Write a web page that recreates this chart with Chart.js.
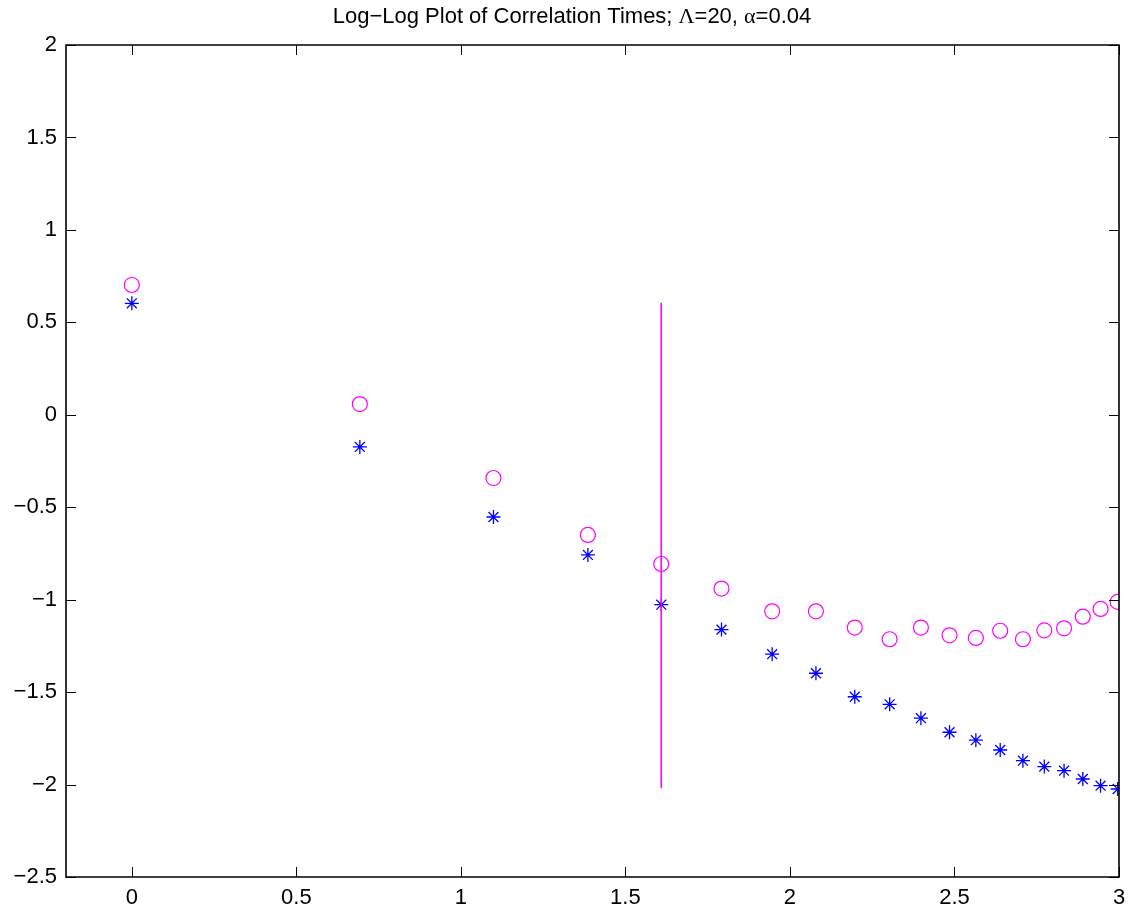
<!DOCTYPE html>
<html>
<head>
<meta charset="utf-8">
<script src="https://cdn.jsdelivr.net/npm/chart.js@4"></script>
<style>
  html, body { margin: 0; padding: 0; background: #fff; }
  canvas { display: block; }
</style>
</head>
<body>
<canvas id="c" width="1128" height="910"></canvas>
<script>
// log(L) for L = 1..20
const logL = [0, 0.693, 1.099, 1.386, 1.609, 1.792, 1.946, 2.079, 2.197, 2.303,
              2.398, 2.485, 2.565, 2.639, 2.708, 2.773, 2.833, 2.890, 2.944, 2.996];
// log correlation time, first estimator (circles)
const tauCircle = [0.702, 0.058, -0.342, -0.650, -0.807, -0.940, -1.063, -1.063, -1.151, -1.214,
                   -1.151, -1.193, -1.207, -1.168, -1.214, -1.166, -1.155, -1.092, -1.050, -1.012];
// log correlation time, second estimator (stars)
const tauStar = [0.603, -0.174, -0.553, -0.758, -1.027, -1.162, -1.295, -1.398, -1.525, -1.566,
                 -1.641, -1.717, -1.760, -1.813, -1.871, -1.903, -1.925, -1.970, -2.006, -2.024];
// vertical marker line
const markerX = 1.609;
const markerY = [0.605, -2.018];

const xTicks = [0, 0.5, 1, 1.5, 2, 2.5, 3];
const yTicks = [-2.5, -2, -1.5, -1, -0.5, 0, 0.5, 1, 1.5, 2];

const SANS = '"Liberation Sans", Arial, Helvetica, sans-serif';
const SERIF = '"Liberation Serif", "Times New Roman", serif';
const titleParts = [
  { text: 'Log\u2212Log Plot of Correlation Times; ', font: '22px ' + SANS },
  { text: '\u039B', font: '22px ' + SERIF },
  { text: '=20, ', font: '22px ' + SANS },
  { text: '\u03B1', font: '22px ' + SERIF },
  { text: '=0.04', font: '22px ' + SANS }
];

const fmt = v => String(v).replace('-', '\u2212');

// Box around the axes with inward ticks on all four sides, plus the title
const boxPlugin = {
  id: 'box',
  afterDraw(chart) {
    const { ctx, chartArea: a, scales } = chart;
    const L = a.left, R = a.right, T = a.top, B = a.bottom;
    const tl = 10;
    ctx.save();
    ctx.strokeStyle = '#000';
    ctx.lineWidth = 1.6;
    ctx.beginPath();
    ctx.rect(L, T, R - L, B - T);
    ctx.stroke();
    ctx.lineWidth = 1;
    ctx.beginPath();
    xTicks.forEach(v => {
      const x = Math.round(scales.x.getPixelForValue(v)) + 0.5;
      ctx.moveTo(x, B); ctx.lineTo(x, B - tl);
      ctx.moveTo(x, T); ctx.lineTo(x, T + tl);
    });
    yTicks.forEach(v => {
      const y = Math.round(scales.y.getPixelForValue(v)) + 0.5;
      ctx.moveTo(L, y); ctx.lineTo(L + tl, y);
      ctx.moveTo(R, y); ctx.lineTo(R - tl, y);
    });
    ctx.stroke();

    // title
    let w = 0;
    titleParts.forEach(p => { ctx.font = p.font; w += ctx.measureText(p.text).width; });
    let x = 572 - w / 2;
    ctx.fillStyle = '#000';
    ctx.textBaseline = 'alphabetic';
    titleParts.forEach(p => {
      ctx.font = p.font;
      ctx.fillText(p.text, x, 23);
      x += ctx.measureText(p.text).width;
    });
    ctx.restore();
  }
};

const tickFont = { family: SANS, size: 22 };

new Chart(document.getElementById('c'), {
  type: 'scatter',
  data: {
    datasets: [
      {
        label: 'marker',
        data: markerY.map(y => ({ x: markerX, y })),
        showLine: true,
        borderColor: '#ff00ff',
        borderWidth: 1,
        pointRadius: 0
      },
      {
        label: 'circles',
        data: logL.map((x, i) => ({ x, y: tauCircle[i] })),
        pointStyle: 'circle',
        pointRadius: 7.5,
        borderColor: '#ff00ff',
        backgroundColor: 'rgba(0,0,0,0)',
        borderWidth: 1.2
      },
      {
        label: 'stars',
        data: logL.map((x, i) => ({ x, y: tauStar[i] })),
        pointStyle: 'star',
        pointRadius: 7,
        borderColor: '#0000ff',
        backgroundColor: '#0000ff',
        borderWidth: 1.3
      }
    ]
  },
  options: {
    responsive: false,
    animation: false,
    devicePixelRatio: 1,
    layout: { padding: { top: 45, right: 9, left: 0, bottom: 0 } },
    plugins: { legend: { display: false }, tooltip: { enabled: false }, title: { display: false } },
    scales: {
      x: {
        type: 'linear',
        min: -0.2, max: 3,
        grid: { display: false, drawTicks: false },
        border: { display: false },
        afterBuildTicks: s => { s.ticks = xTicks.map(v => ({ value: v })); },
        afterFit: s => { s.height = 33; s.paddingLeft = 0; s.paddingRight = 0; },
        ticks: { color: '#000', font: tickFont, padding: 8, maxRotation: 0, autoSkip: false, callback: v => fmt(v) }
      },
      y: {
        type: 'linear',
        min: -2.5, max: 2,
        grid: { display: false, drawTicks: false },
        border: { display: false },
        afterBuildTicks: s => { s.ticks = yTicks.map(v => ({ value: v })); },
        afterFit: s => { s.width = 66; s.paddingTop = 0; s.paddingBottom = 0; },
        ticks: { color: '#000', font: tickFont, padding: 9, autoSkip: false, callback: v => fmt(v) }
      }
    }
  },
  plugins: [boxPlugin]
});
</script>
</body>
</html>
